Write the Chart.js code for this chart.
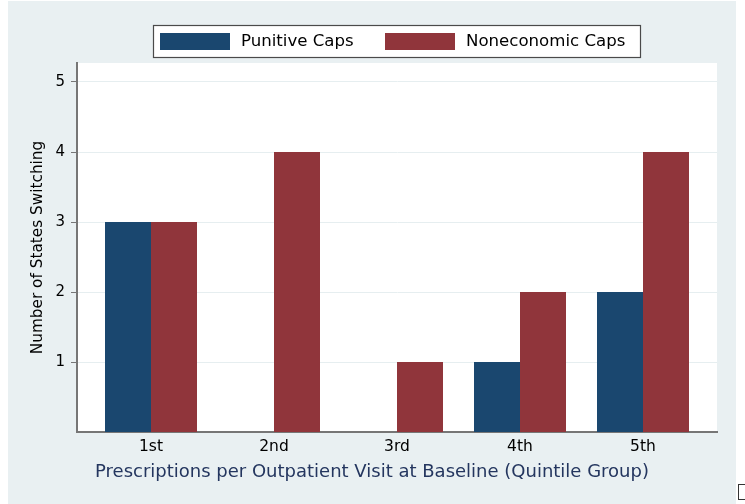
<!DOCTYPE html>
<html>
<head>
<meta charset="utf-8">
<script src="https://cdn.jsdelivr.net/npm/chart.js@4/dist/chart.umd.min.js"></script>
<style>
  html, body { margin: 0; padding: 0; background: #ffffff; }
  #wrap { position: relative; width: 745px; height: 504px; }
  canvas { display: block; }
</style>
</head>
<body>
<div id="wrap"><canvas id="chart" width="745" height="504"></canvas></div>
<script>
// Quintile groups of prescriptions per outpatient visit at baseline
const quintiles = ['1st', '2nd', '3rd', '4th', '5th'];
// Number of states switching, by cap type
const punitiveCaps = [3, 0, 0, 1, 2];
const noneconomicCaps = [3, 4, 1, 2, 4];
// Value-axis tick labels
const yTicks = [1, 2, 3, 4, 5];

const FONT = "'DejaVu Sans', 'Liberation Sans', Arial, sans-serif";
const NAVY = '#1a476f';
const MAROON = '#90353b';
const PAGE_BG = '#e9f0f2';
const AXIS = '#767676';

// Graph region background, plot region, legend box and x-axis title
const framePlugin = {
  id: 'frame',
  beforeDraw(chart) {
    const { ctx, chartArea: a } = chart;
    ctx.save();
    ctx.fillStyle = '#ffffff';
    ctx.fillRect(0, 0, chart.width, chart.height);
    ctx.fillStyle = PAGE_BG;
    ctx.fillRect(8, 1, 728, chart.height - 1);
    ctx.fillStyle = '#ffffff';
    ctx.fillRect(a.left, a.top, a.right - a.left, a.bottom - a.top);
    ctx.restore();
  },
  afterDraw(chart) {
    const { ctx } = chart;
    ctx.save();
    // legend box
    ctx.fillStyle = '#ffffff';
    ctx.fillRect(153, 25, 488, 32);
    ctx.strokeStyle = '#4a4a4a';
    ctx.lineWidth = 1.2;
    ctx.strokeRect(153.5, 25.5, 487, 32);
    const swatchX = [160, 385];
    chart.data.datasets.forEach((ds, i) => {
      ctx.fillStyle = ds.backgroundColor;
      ctx.fillRect(swatchX[i], 33, 70, 17);
      ctx.fillStyle = '#000000';
      ctx.font = '16.6px ' + FONT;
      ctx.textAlign = 'left';
      ctx.textBaseline = 'alphabetic';
      ctx.fillText(ds.label, swatchX[i] + 81, 46);
    });
    // x-axis title
    ctx.fillStyle = '#24365f';
    ctx.font = '18px ' + FONT;
    ctx.textAlign = 'center';
    ctx.fillText('Prescriptions per Outpatient Visit at Baseline (Quintile Group)', 372, 477);
    // small marker box in the lower right corner
    ctx.strokeStyle = '#333333';
    ctx.lineWidth = 1;
    ctx.fillStyle = '#ffffff';
    ctx.fillRect(738, 484, 7, 16);
    ctx.strokeRect(738.5, 484.5, 7, 15);
    ctx.restore();
  }
};

const half = 74 / 123;

new Chart(document.getElementById('chart'), {
  type: 'bar',
  data: {
    datasets: [
      {
        label: 'Punitive Caps',
        data: punitiveCaps.map((v, i) => ({ x: i + 1, y: v })),
        backgroundColor: NAVY,
        borderWidth: 0,
        inflateAmount: 0
      },
      {
        label: 'Noneconomic Caps',
        data: noneconomicCaps.map((v, i) => ({ x: i + 1, y: v })),
        backgroundColor: MAROON,
        borderWidth: 0,
        inflateAmount: 0
      }
    ]
  },
  options: {
    responsive: false,
    animation: false,
    devicePixelRatio: 1,
    categoryPercentage: 92 / 123,
    barPercentage: 1,
    layout: { padding: { left: 0, right: 28, top: 63, bottom: 0 } },
    plugins: {
      legend: { display: false },
      tooltip: { enabled: false }
    },
    scales: {
      x: {
        type: 'linear',
        min: 1 - half,
        max: 5 + half,
        offset: false,
        grid: { display: false },
        border: { display: true, color: AXIS, width: 2 },
        afterBuildTicks(scale) {
          scale.ticks = quintiles.map((q, i) => ({ value: i + 1 }));
        },
        afterFit(scale) { scale.height = 72; },
        ticks: {
          autoSkip: false,
          maxRotation: 0,
          padding: -2,
          color: '#000000',
          font: { family: FONT, size: 15.5 },
          callback: (v) => quintiles[v - 1]
        }
      },
      y: {
        min: 0,
        max: 369 / 70,
        afterBuildTicks(scale) {
          scale.ticks = yTicks.map(v => ({ value: v }));
        },
        afterFit(scale) { scale.width = 77; },
        grid: {
          color: '#e6eef0',
          lineWidth: 1,
          tickColor: AXIS,
          tickLength: 6,
          drawTicks: true
        },
        border: { display: true, color: AXIS, width: 2 },
        ticks: {
          padding: 6,
          color: '#000000',
          font: { family: FONT, size: 15 },
          callback: (v) => String(v)
        },
        title: {
          display: true,
          text: 'Number of States Switching',
          color: '#000000',
          font: { family: FONT, size: 15.3 },
          padding: { top: 29, bottom: 0 }
        }
      }
    }
  },
  plugins: [framePlugin]
});
</script>
</body>
</html>
